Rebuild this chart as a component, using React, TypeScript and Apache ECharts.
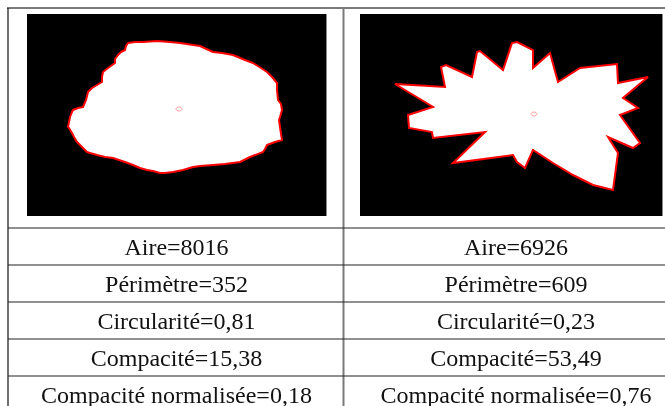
import React, { useEffect, useRef } from "react";
import * as echarts from "echarts";

// Outline of shape 1 (rounded blob), image pixel coordinates
const blobPoints: number[][] = [
  [128, 43], [135, 42], [143, 42], [157, 41], [170, 42], [180, 43], [200, 46], [213, 52],
  [222, 53], [233, 55], [245, 60], [253, 63], [261, 68], [267, 72], [272, 77], [277, 83],
  [277, 90], [278, 100], [281, 104], [282, 110], [280, 117], [279, 120], [280, 127],
  [281, 134], [282, 140], [275, 142], [267, 145], [265, 149], [263, 152], [250, 157],
  [240, 162], [225, 164], [213, 165], [200, 166], [193, 167], [183, 170], [173, 172],
  [165, 173], [160, 173], [153, 171], [147, 170], [140, 168], [133, 165], [125, 162],
  [113, 158], [105, 157], [97, 155], [90, 153], [87, 152], [82, 147], [77, 142], [74, 137],
  [72, 133], [69, 128], [68, 127], [69, 122], [70, 117], [72, 112], [73, 110], [78, 108],
  [83, 107], [86, 100], [88, 92], [92, 88], [97, 85], [102, 82], [102, 77], [103, 72],
  [108, 68], [115, 63], [115, 59], [118, 55], [121, 52], [125, 50], [126, 46],
];
const blobCentroid: number[] = [179, 109];

// Outline of shape 2 (star-like shape)
const starPoints: number[][] = [
  [395, 84], [445, 87], [441, 67], [446, 65], [472, 77], [477, 52], [480, 51], [503, 70],
  [512, 43], [517, 42], [533, 50], [533, 68], [550, 53], [558, 82], [580, 68], [617, 64],
  [618, 83], [648, 77], [623, 98], [638, 108], [620, 115], [640, 143], [633, 148],
  [608, 137], [618, 153], [613, 190], [593, 185], [573, 175], [553, 163], [533, 150],
  [525, 168], [517, 162], [513, 155], [453, 163], [485, 132], [433, 138], [432, 132],
  [409, 128], [408, 115], [433, 107], [395, 84],
];
const starCentroid: number[] = [534, 114];

// Table texts
const leftLabels: string[] = [
  "Aire=8016",
  "Périmètre=352",
  "Circularité=0,81",
  "Compacité=15,38",
  "Compacité normalisée=0,18",
];
const rightLabels: string[] = [
  "Aire=6926",
  "Périmètre=609",
  "Circularité=0,23",
  "Compacité=53,49",
  "Compacité normalisée=0,76",
];
const rowLines: number[] = [228, 265, 302, 339, 376, 413];

export default function App() {
  const ref = useRef<HTMLDivElement>(null);
  useEffect(() => {
    if (!ref.current) return;
    const chart = echarts.init(ref.current, null, { renderer: "svg" });
    const els: any[] = [];
    els.push({ type: "rect", shape: { x: 0, y: 0, width: 665, height: 406 }, style: { fill: "#ffffff" } });
    // images
    els.push({ type: "rect", shape: { x: 27, y: 14, width: 300, height: 202 }, style: { fill: "#000000" } });
    els.push({ type: "rect", shape: { x: 360, y: 14, width: 303, height: 202 }, style: { fill: "#000000" } });
    els.push({ type: "line", shape: { x1: 326.5, y1: 14, x2: 326.5, y2: 216 }, style: { stroke: "#8a8a8a", lineWidth: 1 } });
    els.push({ type: "line", shape: { x1: 662.5, y1: 14, x2: 662.5, y2: 216 }, style: { stroke: "#8a8a8a", lineWidth: 1 } });
    els.push({ type: "polygon", shape: { points: blobPoints }, style: { fill: "#ffffff", stroke: "#ff0000", lineWidth: 2, lineJoin: "round" } });
    els.push({ type: "polygon", shape: { points: starPoints }, style: { fill: "#ffffff", stroke: "#ff0000", lineWidth: 2, lineJoin: "miter" } });
    els.push({ type: "ellipse", shape: { cx: blobCentroid[0], cy: blobCentroid[1], rx: 3, ry: 2 }, style: { fill: "none", stroke: "#ff8a8a", lineWidth: 0.8 } });
    els.push({ type: "ellipse", shape: { cx: starCentroid[0], cy: starCentroid[1], rx: 3, ry: 2 }, style: { fill: "none", stroke: "#ff8a8a", lineWidth: 0.8 } });
    // table borders
    els.push({ type: "line", shape: { x1: 7, y1: 8, x2: 665, y2: 8 }, style: { stroke: "#7a7a7a", lineWidth: 2 } });
    els.push({ type: "line", shape: { x1: 8, y1: 8, x2: 8, y2: 406 }, style: { stroke: "#111111", lineWidth: 1.2 } });
    els.push({ type: "line", shape: { x1: 343.5, y1: 8, x2: 343.5, y2: 406 }, style: { stroke: "#7a7a7a", lineWidth: 2 } });
    rowLines.forEach((y) => {
      els.push({ type: "line", shape: { x1: 8, y1: y, x2: 665, y2: y }, style: { stroke: "#222222", lineWidth: 1.2 } });
    });
    for (let i = 0; i < leftLabels.length; i++) {
      const cy = (rowLines[i] + rowLines[i + 1]) / 2;
      els.push({ type: "text", x: 176.5, y: cy, style: { text: leftLabels[i], fill: "#111111", font: "24px 'Liberation Serif'", align: "center", verticalAlign: "middle" } });
      els.push({ type: "text", x: 516, y: cy, style: { text: rightLabels[i], fill: "#111111", font: "24px 'Liberation Serif'", align: "center", verticalAlign: "middle" } });
    }
    chart.setOption({ animation: false, graphic: { elements: els } });
    return () => chart.dispose();
  }, []);
  return <div ref={ref} style={{ position: "fixed", left: 0, top: 0, width: 665, height: 406 }} />;
}
